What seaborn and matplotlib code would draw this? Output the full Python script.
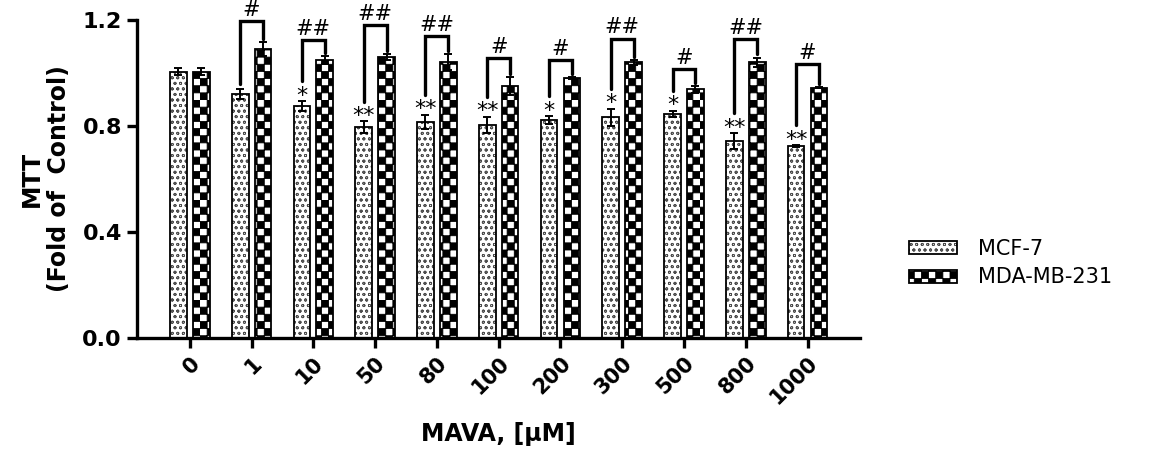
import numpy as np
import pandas as pd
import matplotlib
matplotlib.use("Agg")
import matplotlib.pyplot as plt
import matplotlib.hatch as mhatch
import matplotlib.colors as mcolors
from matplotlib.path import Path
from matplotlib.patches import Patch
import seaborn as sns

# --- data
doses = ["0", "1", "10", "50", "80", "100", "200", "300", "500", "800", "1000"]
mcf7_mean = [1.005, 0.920, 0.875, 0.795, 0.815, 0.805, 0.823, 0.833, 0.845, 0.742, 0.724]
mcf7_sem = [0.012, 0.020, 0.020, 0.022, 0.028, 0.030, 0.015, 0.032, 0.013, 0.030, 0.003]
mda_mean = [1.005, 1.090, 1.050, 1.060, 1.040, 0.950, 0.981, 1.040, 0.938, 1.040, 0.945]
mda_sem = [0.012, 0.025, 0.015, 0.010, 0.030, 0.035, 0.003, 0.010, 0.013, 0.018, 0.003]
stars = ["", "", "*", "**", "**", "**", "*", "*", "*", "**", "**"]
hashes = ["", "#", "##", "##", "##", "#", "#", "##", "#", "##", "#"]
bracket_y = [None, 1.195, 1.125, 1.180, 1.140, 1.055, 1.050, 1.130, 1.015, 1.128, 1.035]
lines = ["MCF-7", "MDA-MB-231"]


# --- checkerboard hatch (takes over the '*' hatch character)
class CheckerHatch(mhatch.HatchPatternBase):
    def __init__(self, hatch, density):
        self.n = 2 * hatch.count("*")
        self.num_vertices = 5 * (self.n * self.n // 2)

    def set_vertices_and_codes(self, vertices, codes):
        s = 1.0 / max(self.n, 1)
        k = 0
        for i in range(self.n):
            for j in range(self.n):
                if (i + j) % 2:
                    continue
                x0, y0 = i * s, j * s
                vertices[k:k + 5] = [[x0, y0], [x0 + s, y0], [x0 + s, y0 + s],
                                     [x0, y0 + s], [x0, y0]]
                codes[k:k + 5] = [Path.MOVETO, Path.LINETO, Path.LINETO,
                                  Path.LINETO, Path.CLOSEPOLY]
                k += 5


mhatch._hatch_types = [t for t in mhatch._hatch_types if t is not mhatch.Stars] + [CheckerHatch]

CHECK = "*******"
DOTS = "ooo"

sns.set_style("white")
plt.rcParams["font.family"] = ["DejaVu Sans"]
plt.rcParams["hatch.linewidth"] = 0.6
plt.rcParams["text.color"] = "black"
plt.rcParams["axes.labelcolor"] = "black"
plt.rcParams["xtick.color"] = "black"
plt.rcParams["ytick.color"] = "black"
plt.rcParams["axes.edgecolor"] = "black"

df = pd.DataFrame({
    "dose": doses * 2,
    "line": [lines[0]] * len(doses) + [lines[1]] * len(doses),
    "value": mcf7_mean + mda_mean,
})

fig, ax = plt.subplots(figsize=(11.53, 4.54), dpi=100)
fig.subplots_adjust(left=0.119, right=0.746, bottom=0.256, top=0.956)

sns.barplot(data=df, x="dose", y="value", hue="line", order=doses, hue_order=lines,
            palette=["white", "white"], edgecolor="black", linewidth=1.3,
            width=0.74, gap=0.27, errorbar=None, legend=False, ax=ax)

mcf_bars, mda_bars = ax.containers[0], ax.containers[1]
for p in mcf_bars:
    p.set_hatch(DOTS)
    p._hatch_color = mcolors.to_rgba("0.3")
for p in mda_bars:
    p.set_hatch(CHECK)

x_mcf = [p.get_x() + p.get_width() / 2 for p in mcf_bars]
x_mda = [p.get_x() + p.get_width() / 2 for p in mda_bars]

ax.errorbar(x_mcf, mcf7_mean, yerr=mcf7_sem, fmt="none", ecolor="black",
            elinewidth=1.4, capsize=3, capthick=1.4)
ax.errorbar(x_mda, mda_mean, yerr=mda_sem, fmt="none", ecolor="black",
            elinewidth=1.4, capsize=3, capthick=1.4)

# --- significance marks
for i in range(len(doses)):
    top_mcf = mcf7_mean[i] + mcf7_sem[i]
    if stars[i]:
        ax.text(x_mcf[i], top_mcf - 0.018, stars[i], ha="center", va="bottom",
                fontsize=16)
    if hashes[i]:
        yb = bracket_y[i]
        left_bot = top_mcf + (0.075 if stars[i] else 0.02)
        right_bot = mda_mean[i] + mda_sem[i] + 0.012
        ax.plot([x_mcf[i], x_mcf[i], x_mda[i], x_mda[i]],
                [left_bot, yb, yb, right_bot], color="black", lw=2.4,
                solid_joinstyle="miter", clip_on=False)
        ax.text((x_mcf[i] + x_mda[i]) / 2, yb + 0.004, hashes[i], ha="center",
                va="bottom", fontsize=15, clip_on=False)

# --- axes styling
ax.set_ylim(0, 1.2)
ax.set_yticks([0.0, 0.4, 0.8, 1.2])
ax.set_yticklabels(["0.0", "0.4", "0.8", "1.2"], fontsize=16, fontweight="bold")
ax.set_xticks(range(len(doses)))
ax.set_xticklabels(doses, rotation=45, ha="right", rotation_mode="anchor",
                   fontsize=15, fontweight="bold")
sns.despine(ax=ax)
for s in ["left", "bottom"]:
    ax.spines[s].set_linewidth(2.4)
ax.tick_params(axis="both", direction="out", length=7, width=2.4, left=True,
               bottom=True, pad=4)
ax.set_xlabel("MAVA, [\u03bcM]", fontsize=17, fontweight="bold", labelpad=10)
ax.set_ylabel("MTT\n(Fold of  Control)", fontsize=17, fontweight="bold", labelpad=8)

# --- legend
handles = [
    Patch(facecolor="white", edgecolor="black", hatch=DOTS, linewidth=1.3),
    Patch(facecolor="white", edgecolor="black", hatch=CHECK, linewidth=1.3),
]
handles[0]._hatch_color = mcolors.to_rgba("0.3")
fig.legend(handles, lines, loc="center left", bbox_to_anchor=(0.772, 0.42),
           frameon=False, fontsize=15, handlelength=2.3, handleheight=0.6,
           handletextpad=1.0, labelspacing=0.4)

fig.savefig("out.png", dpi=100)
